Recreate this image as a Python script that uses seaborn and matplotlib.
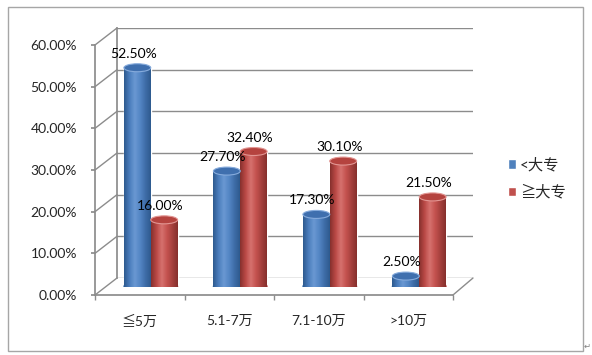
import numpy as np
import pandas as pd
import matplotlib.pyplot as plt
import seaborn as sns
from matplotlib.colors import LinearSegmentedColormap
from matplotlib.patches import Ellipse, Rectangle
from matplotlib.lines import Line2D

# 数据：收入区间 x 学历
categories = ["≦5万", "5.1-7万", "7.1-10万", ">10万"]
groups = ["<大专", "≧大专"]
below_college = [0.525, 0.277, 0.173, 0.025]
college_plus = [0.160, 0.324, 0.301, 0.215]
y_ticks = [0.0, 0.1, 0.2, 0.3, 0.4, 0.5, 0.6]

W, H = 592, 355
grid_c = "#8c8c8c"
bar_colors = ["#4F81BD", "#C0504D"]

sns.set_theme(style="white")
plt.rcParams['font.family'] = ['Lato', 'Noto Sans CJK SC', 'DejaVu Sans']

fig = plt.figure(figsize=(W / 100, H / 100), dpi=100)


def box(l, t, r, b):
    # 像素坐标 -> figure 比例
    return [l / W, 1 - b / H, (r - l) / W, (b - t) / H]


def to_fig(ax_, xy):
    return fig.transFigure.inverted().transform(ax_.transData.transform(xy))


# 背面墙（横向网格线）
ax_back = fig.add_axes(box(117, 28, 473, 278))
ax_back.set_xlim(0, 1)
ax_back.set_ylim(0, 0.6)
for y in y_ticks:
    ax_back.axhline(y, color=grid_c, lw=1)
ax_back.set_xticks([])
ax_back.set_yticks([])
for s in ["top", "right", "bottom"]:
    ax_back.spines[s].set_visible(False)
ax_back.spines["left"].set_color(grid_c)
ax_back.patch.set_alpha(0)

# 前面的坐标轴（刻度和标签）
ax = fig.add_axes(box(95, 45, 453, 295), zorder=1)
ax.patch.set_alpha(0)
ax.set_xlim(-0.5, 3.5)
ax.set_ylim(0, 0.6)
ax.set_yticks(y_ticks)
ax.set_yticklabels([f"{v * 100:.2f}%" for v in y_ticks], fontsize=10)
ax.set_xticks(range(len(categories)))
ax.set_xticklabels(categories, fontsize=10)
ax.set_xticks(np.arange(-0.5, 4, 1), minor=True)
ax.tick_params(axis="y", length=3, color=grid_c, pad=10, left=True)
ax.tick_params(axis="x", which="major", length=0, pad=14)
ax.tick_params(axis="x", which="minor", length=3.6, color=grid_c, bottom=True)
for s in ["top", "right"]:
    ax.spines[s].set_visible(False)
for s in ["left", "bottom"]:
    ax.spines[s].set_color(grid_c)

# 墙面的斜线
for y in y_ticks:
    p1 = to_fig(ax, (-0.5, y))
    p2 = to_fig(ax_back, (0, y))
    fig.add_artist(Line2D([p1[0], p2[0]], [p1[1], p2[1]], color=grid_c, lw=1))
p1 = to_fig(ax, (3.5, 0))
p2 = to_fig(ax_back, (1, 0))
fig.add_artist(Line2D([p1[0], p2[0]], [p1[1], p2[1]], color=grid_c, lw=1))

# 柱子（放在中间深度）
ax_bar = fig.add_axes(box(106, 36.5, 464, 286.5), zorder=2)
ax_bar.patch.set_alpha(0)

df = pd.DataFrame({
    "收入": categories * 2,
    "学历": [groups[0]] * 4 + [groups[1]] * 4,
    "比例": below_college + college_plus,
})
sns.barplot(data=df, x="收入", y="比例", hue="学历", order=categories,
            hue_order=groups, palette=bar_colors, width=0.6, saturation=1,
            ax=ax_bar)

cmaps = [
    LinearSegmentedColormap.from_list("b", ["#2E5A8F", "#4A7DBD", "#6A98D2", "#5486C5", "#3F6DA8", "#2E5A8F"]),
    LinearSegmentedColormap.from_list("r", ["#86302D", "#BA4946", "#D6716E", "#C4524F", "#A5403D", "#86302D"]),
]
caps = [("#3F6FAE", "#86ABDC"), ("#B5433F", "#E29592")]
eh = 8 / 250 * 0.6
grad = np.linspace(0, 1, 64).reshape(1, -1)

for container, cmap, (cap_fc, cap_ec) in zip(ax_bar.containers, cmaps, caps):
    for bar in container:
        x0, w, h = bar.get_x(), bar.get_width(), bar.get_height()
        xc = x0 + w / 2
        ax_bar.add_patch(Ellipse((xc, 0), w, eh, color=cmap(0.3), zorder=2))
        ax_bar.imshow(grad, extent=[x0, x0 + w, 0, h], aspect="auto", cmap=cmap, zorder=3)
        ax_bar.add_patch(Ellipse((xc, h), w, eh, fc=cap_fc, ec=cap_ec, lw=0.8, zorder=4))
        ax_bar.annotate(f"{h * 100:.2f}%", (xc, h), xytext=(-4, 14),
                        textcoords="offset pixels", ha="center", va="center",
                        fontsize=10, color="black", zorder=5)

ax_bar.set_xlim(-0.5, 3.5)
ax_bar.set_ylim(0, 0.6)
ax_bar.axis("off")

# 图例
leg = ax_bar.get_legend()
handles = leg.legend_handles
labels = [t.get_text() for t in leg.get_texts()]
leg.remove()
fig.legend(handles, labels, loc="upper left", bbox_to_anchor=(494 / W, 1 - 144 / H),
           frameon=False, handlelength=0.55, handleheight=0.55, handletextpad=0.25,
           labelspacing=0.85, fontsize=11)

# 外框
fig.add_artist(Rectangle((8 / W, 1 - 351 / H), (583 - 8) / W, (351 - 7) / H,
                         transform=fig.transFigure, fill=False, ec="#a6a6a6", lw=1))
fig.text(587 / W, 1 - 346 / H, "↵", fontsize=6, color="#808080",
         family="DejaVu Sans", ha="center", va="center")

fig.savefig("out.png", dpi=100)
